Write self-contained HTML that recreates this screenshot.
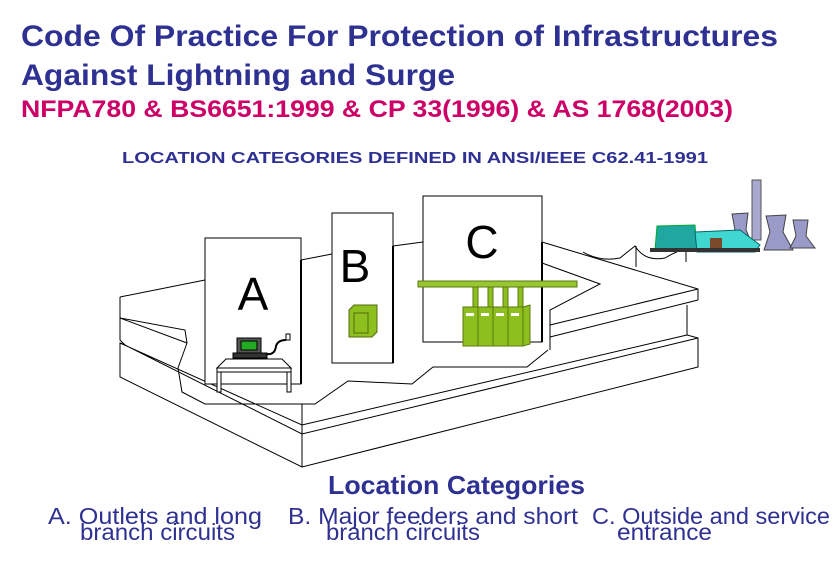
<!DOCTYPE html>
<html><head><meta charset="utf-8"><style>
body{margin:0;width:837px;height:561px;background:#fff;overflow:hidden;font-family:"Liberation Sans",Arial,sans-serif;}
</style></head><body>
<svg width="837" height="561" viewBox="0 0 837 561" xmlns="http://www.w3.org/2000/svg" font-family="Liberation Sans, Arial, sans-serif">
<text x="21" y="46" font-size="30" font-weight="bold" fill="#2E3192" textLength="757" lengthAdjust="spacingAndGlyphs">Code Of Practice For Protection of Infrastructures</text>
<text x="21" y="85" font-size="30" font-weight="bold" fill="#2E3192" textLength="434" lengthAdjust="spacingAndGlyphs">Against Lightning and Surge</text>
<text x="21" y="117" font-size="24" font-weight="bold" fill="#CC0066" textLength="712" lengthAdjust="spacingAndGlyphs">NFPA780 &amp; BS6651:1999 &amp; CP 33(1996) &amp; AS 1768(2003)</text>
<text x="122" y="163" font-size="16" font-weight="bold" fill="#2E3192" textLength="586" lengthAdjust="spacingAndGlyphs">LOCATION CATEGORIES  DEFINED IN ANSI/IEEE  C62.41-1991</text>

<g fill="none" stroke="#000" stroke-width="1">
<path d="M120,297 L205,280 M301,260 L332,254 M393,246 L423,242 M542,242 L698,289 L698,300 M542,263 L600,284 L550,310 L550,350"/>
<path d="M120,297 L120,318 L185,330 L187,343 L178,368 L182,392 L205,404 L315,404 L348,381 L412,384 L433,367 L527,367 L548,350"/>
<path d="M120,318 L187,343 M550,325 L698,289 M550,337 L698,300"/>
<path d="M120,318 L120,340 L125,345 L120,343 L120,377 L302,467 L698,367 L698,338 L687,335 L687,305"/>
<path d="M120,343 L302,425 L687,335 M125,345 L302,434 L698,338 M302,404 L302,467"/>
<path d="M583,252 Q600,262 620,258 Q630,250 635,246 Q645,262 665,258 Q675,252 686,248 M636,246 L636,267 M686,248 L686,262"/>
</g>

<g fill="#fff" stroke="#000" stroke-width="1">
<rect x="205" y="238" width="96" height="146"/>
<rect x="332" y="213" width="61" height="150"/>
<rect x="423" y="196" width="119" height="146"/>
</g>
<path d="M301,260 L301,384 M393,246 L393,363 M542,242 L542,342" stroke="#000" stroke-width="2"/>
<text x="253" y="310" font-size="46" text-anchor="middle">A</text>
<text x="355" y="282" font-size="46" text-anchor="middle">B</text>
<text x="482" y="258" font-size="46" text-anchor="middle">C</text>

<g stroke="#000" stroke-width="1" fill="#fff">
<path d="M217,368 L226,359 L282,359 L291,368 Z"/>
<rect x="217" y="368" width="74" height="4"/>
<rect x="217" y="372" width="4" height="20"/>
<rect x="287" y="372" width="4" height="20"/>
<rect x="237" y="338" width="24" height="15" fill="#555"/>
<rect x="241" y="341" width="16" height="9" fill="#2a2"/>
<rect x="233" y="353" width="34" height="5" fill="#333"/>
<path d="M267,354 Q275,355 276,346 Q278,340 286,340" fill="none" stroke-width="2"/>
<rect x="286" y="334" width="4" height="6"/>
</g>
<path d="M349,310 L354,305 L377,305 L377,332 L372,337 L349,337 Z" fill="#8DBF1E" stroke="#556b10"/>
<rect x="354" y="313" width="14" height="20" fill="none" stroke="#556b10"/>
<rect x="418" y="281" width="159" height="6" fill="#9AC631" stroke="#5a7a10"/>
<g fill="#8DBF1E" stroke="#5a7a10">
<rect x="473" y="287" width="5" height="20"/><rect x="488" y="287" width="5" height="20"/>
<rect x="503" y="287" width="5" height="20"/><rect x="518" y="287" width="5" height="20"/>
<rect x="463" y="307" width="15" height="39"/><rect x="478" y="307" width="15" height="39"/>
<rect x="493" y="307" width="15" height="39"/><rect x="508" y="307" width="15" height="39"/>
<path d="M523,307 L530,305 L530,344 L523,346Z"/>
</g>
<g fill="#fff"><rect x="466" y="313" width="8" height="3"/><rect x="481" y="313" width="8" height="3"/><rect x="496" y="313" width="8" height="3"/><rect x="511" y="313" width="8" height="3"/></g>

<rect x="752" y="180" width="9" height="60" fill="#A8A8D0" stroke="#555"/>
<path d="M732,214 L748,213 L746,230 L754,248 L730,248 L735,230 Z" fill="#9A9AC8" stroke="#444"/>
<path d="M766,216 L786,215 L783,232 L793,250 L764,250 L770,232 Z" fill="#9A9AC8" stroke="#444"/>
<path d="M793,220 L808,220 L806,236 L815,248 L790,248 L796,236 Z" fill="#9A9AC8" stroke="#444"/>
<path d="M657,226 L695,225 L697,250 L655,250 Z" fill="#1FA7A0" stroke="#0a3"/>
<path d="M695,232 L740,230 L760,245 L755,252 L697,252 Z" fill="#3FD7CF" stroke="#066"/>
<rect x="710" y="238" width="12" height="14" fill="#7a4a2a"/>
<rect x="650" y="248" width="110" height="4" fill="#333"/>

<text x="328" y="494" font-size="26" font-weight="bold" fill="#2E3192" textLength="257" lengthAdjust="spacingAndGlyphs">Location Categories</text>
<g font-size="23" fill="#2E3192">
<text x="48" y="524" textLength="214" lengthAdjust="spacingAndGlyphs">A.  Outlets and long</text>
<text x="80" y="540" textLength="155" lengthAdjust="spacingAndGlyphs">branch circuits</text>
<text x="288" y="524" textLength="290" lengthAdjust="spacingAndGlyphs">B.  Major feeders and short</text>
<text x="326" y="540" textLength="154" lengthAdjust="spacingAndGlyphs">branch circuits</text>
<text x="592" y="524" textLength="238" lengthAdjust="spacingAndGlyphs">C. Outside and service</text>
<text x="617" y="540" textLength="95" lengthAdjust="spacingAndGlyphs">entrance</text>
</g>
</svg>
</body></html>
